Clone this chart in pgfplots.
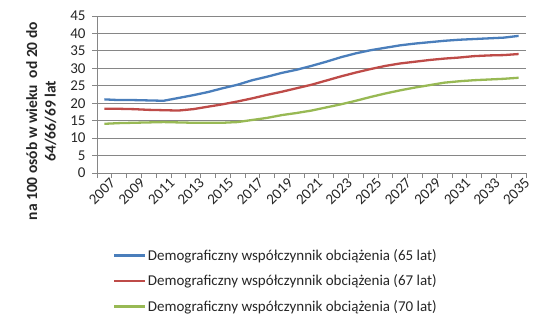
\documentclass[border=0pt]{standalone}
\usepackage{pgfplots}
\pgfplotsset{compat=1.18}
\usepackage{fontspec}
\setmainfont{Carlito}
\definecolor{cblue}{HTML}{4A7EBB}
\definecolor{cred}{HTML}{BE4B48}
\definecolor{cgreen}{HTML}{98B954}
\definecolor{cgrid}{HTML}{868686}
\newcommand{\fs}{\fontsize{15bp}{18bp}\selectfont}
\newcommand{\fl}{\fontsize{15.5bp}{18.5bp}\selectfont}
\begin{document}
\begin{tikzpicture}
\path[use as bounding box] (0,0) rectangle (550bp,328bp);
\begin{axis}[
  at={(97bp,155bp)}, anchor=south west,
  scale only axis, width=429bp, height=157bp,
  xmin=2006.5, xmax=2035.5, ymin=0, ymax=45,
  axis x line=bottom, axis y line=left,
  axis line style={-, draw=cgrid, line width=0.8bp},
  ytick={0,5,...,45},
  ymajorgrids, grid style={cgrid, line width=0.8bp},
  xtick={2006.5,2007.5,...,2035.5},
  xticklabels={},
  extra x ticks={2007,2009,...,2035},
  extra x tick style={major tick length=0pt},
  major tick length=5bp,
  tick align=outside,
  tick style={draw=cgrid, line width=0.8bp},
  /pgf/number format/assume math mode=true,
  /pgf/number format/1000 sep={},
  tick label style={font=\fs, color=black!85},
  yticklabel style={xshift=-3bp},
  xticklabel style={rotate=45, anchor=north east, yshift=-3bp, xshift=4bp},
  ylabel={na 100 osób w wieku\ \ od 20 do\\64/66/69 lat},
  every axis y label/.style={font=\fl\bfseries, align=center, color=black!85,
    at={(axis description cs:-0.13,0.33)}, anchor=center, rotate=90},
  legend style={draw=none, fill=none, font=\fs, text=black!85,
    at={(axis description cs:0.03,-0.462)}, anchor=north west,
    row sep=10bp, nodes={inner sep=1.5bp}},
  legend cell align=left,
  legend image code/.code={\draw[#1] (0bp,0bp) -- (31bp,0bp);},
  every axis plot/.append style={line width=2.3bp},
]
\addplot[cblue] coordinates {
(2007,21.1)(2008,20.9)(2009,20.9)(2010,20.8)(2011,20.7)(2012,21.5)(2013,22.3)(2014,23.2)(2015,24.3)(2016,25.3)
(2017,26.6)(2018,27.6)(2019,28.7)(2020,29.6)(2021,30.7)(2022,31.9)(2023,33.2)(2024,34.3)(2025,35.2)(2026,35.9)
(2027,36.6)(2028,37.1)(2029,37.5)(2030,37.9)(2031,38.2)(2032,38.4)(2033,38.6)(2034,38.8)(2035,39.3)};
\addlegendentry{Demograficzny współczynnik obciążenia (65 lat)}
\addplot[cred] coordinates {
(2007,18.4)(2008,18.4)(2009,18.3)(2010,18.1)(2011,18.0)(2012,17.9)(2013,18.3)(2014,19.0)(2015,19.7)(2016,20.5)
(2017,21.4)(2018,22.4)(2019,23.3)(2020,24.3)(2021,25.3)(2022,26.5)(2023,27.7)(2024,28.8)(2025,29.8)(2026,30.7)
(2027,31.4)(2028,31.9)(2029,32.4)(2030,32.8)(2031,33.1)(2032,33.5)(2033,33.7)(2034,33.8)(2035,34.1)};
\addlegendentry{Demograficzny współczynnik obciążenia (67 lat)}
\addplot[cgreen] coordinates {
(2007,14.1)(2008,14.3)(2009,14.4)(2010,14.5)(2011,14.6)(2012,14.5)(2013,14.4)(2014,14.4)(2015,14.4)(2016,14.6)
(2017,15.2)(2018,15.8)(2019,16.6)(2020,17.2)(2021,17.9)(2022,18.8)(2023,19.7)(2024,20.7)(2025,21.8)(2026,22.8)
(2027,23.7)(2028,24.5)(2029,25.2)(2030,25.9)(2031,26.3)(2032,26.6)(2033,26.8)(2034,27.0)(2035,27.3)};
\addlegendentry{Demograficzny współczynnik obciążenia (70 lat)}
\end{axis}
\end{tikzpicture}
\end{document}
